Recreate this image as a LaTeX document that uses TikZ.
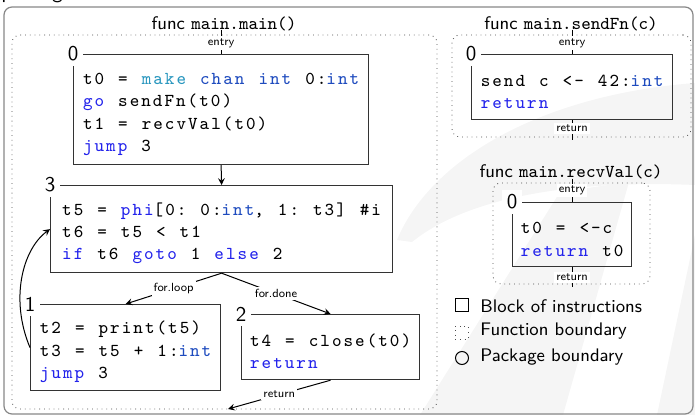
\documentclass[tikz,border=0pt]{standalone}
\usepackage{fontspec}
\usepackage{tikz}
\usetikzlibrary{calc}
\usetikzlibrary{arrows}
\usetikzlibrary{fit}

\newfontfamily\codefont{Latin Modern Mono}[LetterSpace=11.2,WordSpace=1.21]
\definecolor{kwblue}{RGB}{35,35,235}
\definecolor{typeblue}{RGB}{30,75,190}
\definecolor{callteal}{RGB}{40,150,190}
\definecolor{pkggray}{RGB}{135,135,135}
\newcommand{\kw}[1]{\textcolor{kwblue}{#1}}
\newcommand{\ty}[1]{\textcolor{typeblue}{#1}}
\newcommand{\bi}[1]{\textcolor{callteal}{#1}}
\newcommand{\codetop}{\rule{0pt}{10.6pt}}

\begin{document}
\begin{tikzpicture}[x=0.5pt,y=-0.5pt,
  block/.style={draw=black!80,line width=0.6pt,rectangle,anchor=north west,inner sep=0pt,
    align=left,font=\codefont\frenchspacing\fontsize{9.1pt}{11.15pt}\selectfont},
  blocknum/.style={fill=white,inner sep=2.5pt,font=\sffamily\fontsize{10.5pt}{12pt}\selectfont},
  funcbox/.style={draw=black!70,dotted,rounded corners=4pt,inner sep=0pt},
  pkgbox/.style={draw=pkggray,line width=0.6pt,rounded corners=4pt,inner sep=0pt},
  functitle/.style={font=\sffamily\fontsize{9.1pt}{11pt}\selectfont},
  stub/.style={line width=0.4pt},
  stublabel/.style={fill=white,inner sep=1pt,font=\sffamily\fontsize{5.9pt}{7pt}\selectfont},
  cfgedge/.style={-stealth,line width=0.5pt},
  legendtext/.style={anchor=west,inner sep=0pt,font=\sffamily\fontsize{9.1pt}{11pt}\selectfont}]
  % Boundary
  \useasboundingbox (0,0) rectangle (695,415);
  \clip (0,0) rectangle (695,415);
  % Background mark
  \fill[black!4] (397,240) .. controls (430,160) and (540,95) .. (695,83) -- (695,185)
    .. controls (580,180) and (470,195) .. (412,242) -- cycle;
  \fill[black!4] (560,192) -- (629,182) -- (563,415) -- (420,415) -- cycle;
  \fill[black!4] (695,235) -- (695,415) -- (657,415) -- cycle;
  % Package
  \node[pkgbox,fit={(4,7) (693,414)}] (pkg) {};
  \node[anchor=base west,inner sep=0pt,font=\sffamily\fontsize{10.5pt}{12pt}\selectfont]
    (pkgtitle) at (1,-1) {package \texttt{main}};
  % Function boundaries
  \node[funcbox,fit={(12,35) (437,409)}] (mainfn) {};
  \node[funcbox,fit={(452,35) (691,137)}] (sendfn) {};
  \node[funcbox,fit={(493,183) (650,284)}] (recvfn) {};
  \node[functitle] (maintitle) at (224,24) {func \texttt{main.main()}};
  \node[functitle] (sendtitle) at (571,24) {func \texttt{main.sendFn(c)}};
  \node[functitle] (recvtitle) at (571,172) {func \texttt{main.recvVal(c)}};
  % Blocks of main.main
  \node[block,minimum width=147.5pt,minimum height=55pt] (b0) at (73,54)
    {\codetop t0 = \bi{make} \ty{chan} \ty{int} 0:\ty{int}\\ \kw{go} sendFn(t0)\\ t1 = recvVal(t0)\\ \kw{jump} 3};
  \node[block,minimum width=171pt,minimum height=43.5pt] (b3) at (50,185)
    {\codetop t5 = \kw{phi}[0: 0:\ty{int}, 1: t3] \#i\\ t6 = t5 < t1\\ \kw{if} t6 \kw{goto} 1 \kw{else} 2};
  \node[block,minimum width=95pt,minimum height=43pt] (b1) at (30,304)
    {\codetop t2 = print(t5)\\ t3 = t5 + 1:\ty{int}\\ \kw{jump} 3};
  \node[block,minimum width=89pt,minimum height=32.5pt] (b2) at (241,314)
    {\codetop t4 = close(t0)\\ \kw{return}};
  % Blocks of main.sendFn and main.recvVal
  \node[block,minimum width=100.5pt,minimum height=32.5pt] (s0) at (471,54)
    {\codetop send c <- 42:\ty{int}\\ \kw{return}};
  \node[block,minimum width=59.5pt,minimum height=32pt] (r0) at (512,202)
    {\codetop t0 = <-c\\ \kw{return} t0};
  % Block numbers
  \node[blocknum] (b0num) at (b0.north west) {0};
  \node[blocknum] (b3num) at (b3.north west) {3};
  \node[blocknum] (b1num) at (b1.north west) {1};
  \node[blocknum] (b2num) at (b2.north west) {2};
  \node[blocknum] (s0num) at (s0.north west) {0};
  \node[blocknum] (r0num) at (r0.north west) {0};
  % Entry and return stubs
  \coordinate (mainin) at ([yshift=2.5pt]b0.north |- mainfn.north);
  \coordinate (mainout) at (228,409);
  \coordinate (sendin) at ([yshift=2.5pt]s0.north |- sendfn.north);
  \coordinate (sendout) at ([yshift=-1.5pt]s0.south |- sendfn.south);
  \coordinate (recvin) at ([yshift=2pt]r0.north |- recvfn.north);
  \coordinate (recvout) at ([yshift=-1.5pt]r0.south |- recvfn.south);
  \draw[stub] (mainin) -- node[stublabel,pos=0.55] (mainentry) {entry} (b0.north);
  \draw[stub] (sendin) -- node[stublabel,pos=0.55] (sendentry) {entry} (s0.north);
  \draw[stub] (s0.south) -- node[stublabel,pos=0.42] (sendreturn) {return} (sendout);
  \draw[stub] (recvin) -- node[stublabel,pos=0.52] (recventry) {entry} (r0.north);
  \draw[stub] (r0.south) -- node[stublabel,pos=0.5] (recvreturn) {return} (recvout);
  % Control flow
  \draw[cfgedge] (b0.south) -- (b3.north);
  \draw[cfgedge] (b3.south) -- node[stublabel] (forloop) {for.loop} (b1.north);
  \draw[cfgedge] (b3.south) -- node[stublabel] (fordone) {for.done} (b2.north);
  \draw[cfgedge] (b1.west) .. controls (10,300) and (22,250) .. (b3.west);
  \draw[cfgedge] (b2.south) -- node[stublabel] (mainreturn) {return} (mainout);
  % Legend
  \node[draw,line width=0.5pt,minimum size=6.5pt,inner sep=0pt] (lgblock) at (461.5,305.5) {};
  \node[legendtext] (lgblocktxt) at (480,306) {Block of instructions};
  \node[draw=black!70,dotted,minimum size=6.5pt,inner sep=0pt] (lgfunc) at (461.5,332.5) {};
  \node[legendtext] (lgfunctxt) at (480,331) {Function boundary};
  \node[draw,circle,line width=0.5pt,minimum size=6.5pt,inner sep=0pt] (lgpkg) at (462,358) {};
  \node[legendtext] (lgpkgtxt) at (480,357) {Package boundary};
\end{tikzpicture}
\end{document}
